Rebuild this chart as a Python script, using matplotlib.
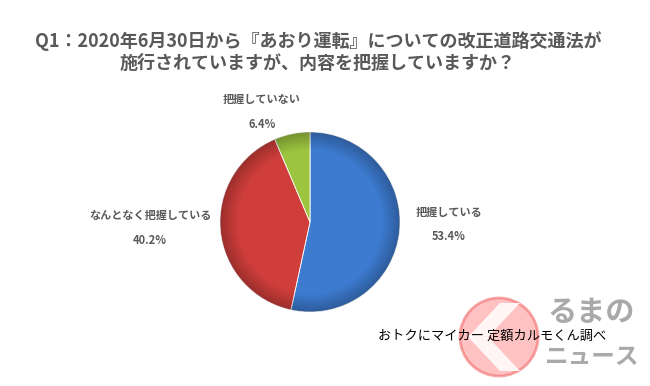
import numpy as np
import matplotlib.pyplot as plt
from matplotlib.patches import Circle, Polygon

plt.rcParams['font.family'] = ['Noto Sans CJK JP', 'DejaVu Sans']

# データ
labels = ["把握している", "なんとなく把握している", "把握していない"]
values = [53.4, 40.2, 6.4]
colors = ["#3d7bd0", "#cf3e3b", "#9cc43f"]
title = "Q1：2020年6月30日から『あおり運転』についての改正道路交通法が\n施行されていますが、内容を把握していますか？"
source = "おトクにマイカー 定額カルモくん調べ"

fig = plt.figure(figsize=(6.5, 3.86), dpi=100)
fig.patch.set_facecolor("white")

# ロゴ（透かし）用のピクセル座標の軸
bg = fig.add_axes([0, 0, 1, 1], zorder=0)
bg.set_xlim(0, 650)
bg.set_ylim(386, 0)
bg.axis("off")
bg.add_patch(Circle((499, 337), 39, facecolor="#ff9090", edgecolor="#f06060",
                    linewidth=2, alpha=0.55))
bg.add_patch(Polygon([(468, 337), (500, 303), (520, 303), (488, 337),
                      (520, 371), (500, 371)], closed=True,
                     facecolor="white", alpha=0.85, edgecolor="none"))
bg.text(591, 312, "るまの", ha="center", va="center",
        fontsize=21, fontweight="bold", color="#9a9a9a", alpha=0.85)
bg.text(592, 357, "ニュース", ha="center", va="center",
        fontsize=17, fontweight="bold", color="#9a9a9a", alpha=0.85)

# 円グラフ
ax = fig.add_axes([220 / 650, 74 / 386, 180 / 650, 180 / 386], zorder=2)
wedges, _ = ax.pie(values, colors=colors, startangle=90, counterclock=False,
                   radius=1, wedgeprops=dict(edgecolor="white", linewidth=0.6))
ax.set_xlim(-1, 1)
ax.set_ylim(-1, 1)
ax.set_aspect("equal")
ax.axis("off")

# 陰影（グラデーション）
yy, xx = np.mgrid[1:-1:200j, -1:1:200j]
shade = np.zeros((200, 200, 4))
d = np.sqrt(xx ** 2 + yy ** 2)
shade[..., 3] = np.clip((d - 0.8) / 0.2, 0, 1) * 0.25
img = ax.imshow(shade, extent=(-1, 1, -1, 1), zorder=3)
img.set_clip_path(Circle((0, 0), 1, transform=ax.transData))

# ラベル
label_pos = [(449, 213), (150, 216), (262, 100)]
for lab, v, (px, py) in zip(labels, values, label_pos):
    fig.text(px / 650, 1 - py / 386, lab, ha="center", va="center",
             fontsize=8, fontweight="bold", color="#595959")
    fig.text(px / 650, 1 - (py + 24) / 386, f"{v:.1f}%", ha="center", va="center",
             fontsize=8, fontweight="bold", color="#595959")

# タイトル
fig.text(318 / 650, 1 - 52 / 386, title, ha="center", va="center",
         fontsize=13, fontweight="bold", color="#595959", linespacing=1.25)

# 出典
fig.text(378 / 650, 1 - 336 / 386, source, ha="left", va="center",
         fontsize=9.5, color="black", zorder=5)

fig.savefig("out.png", dpi=100)
